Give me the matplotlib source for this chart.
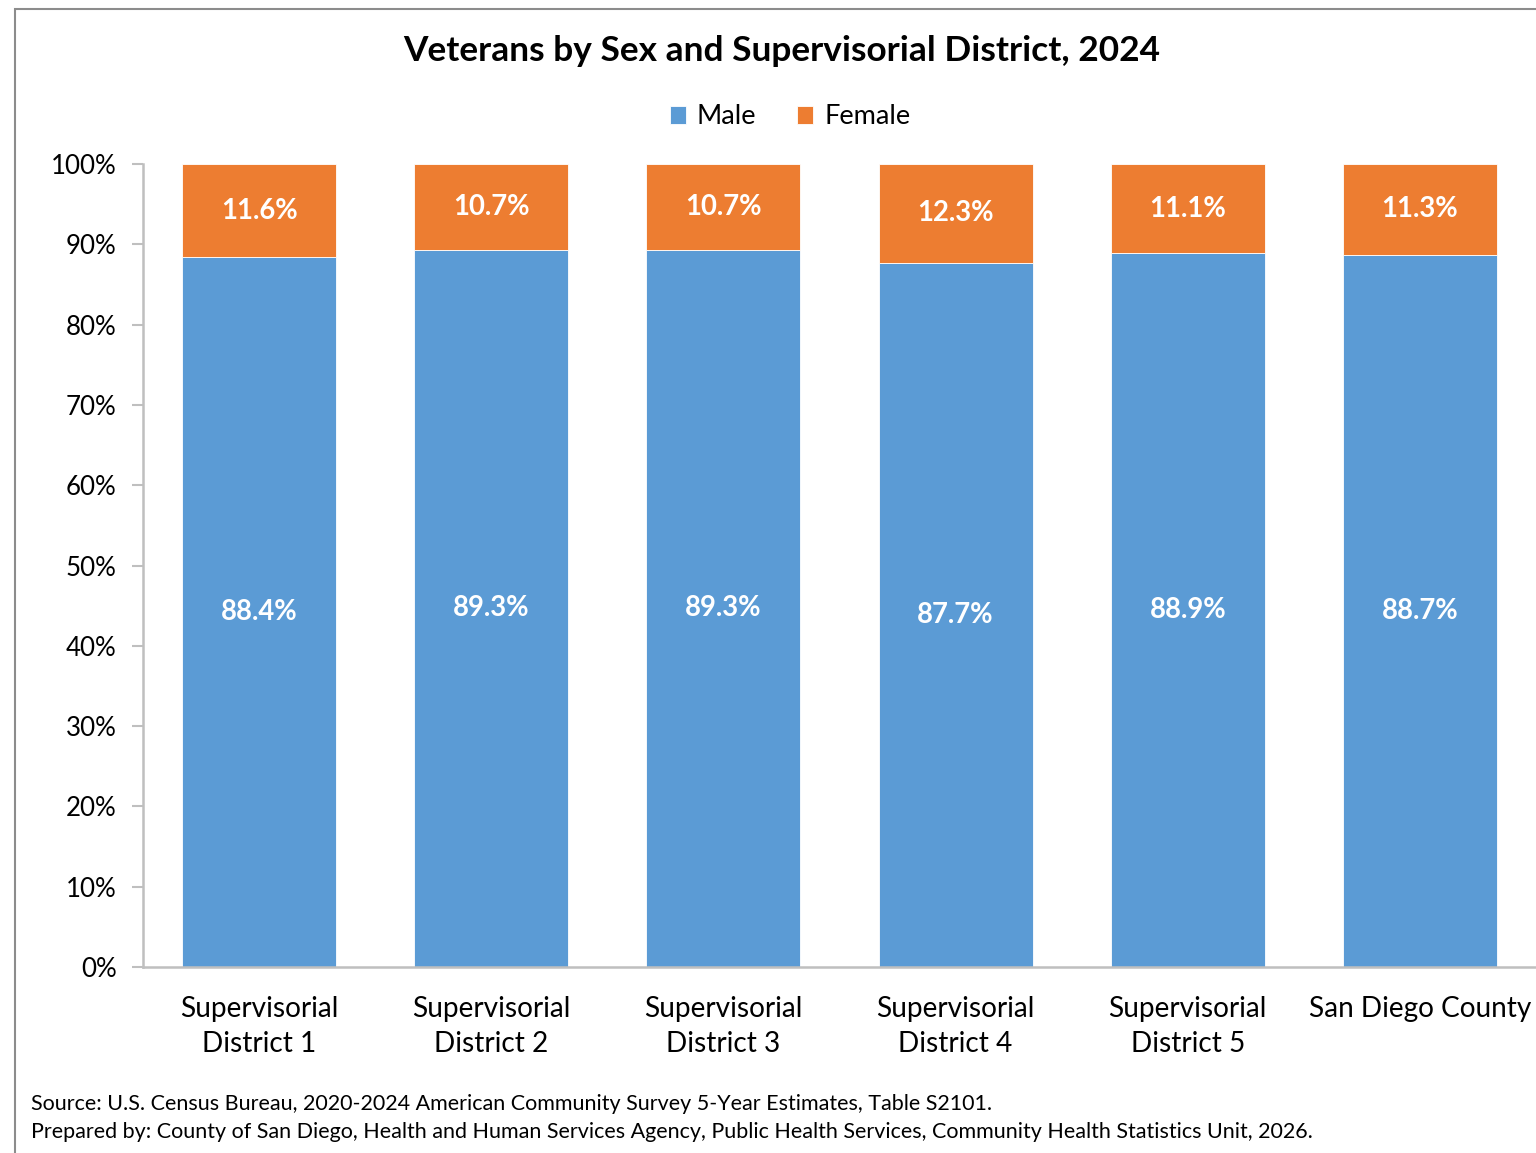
import matplotlib.pyplot as plt
from matplotlib.patches import Rectangle

# Veterans by sex, share of each district (percent)
districts = ["Supervisorial\nDistrict 1", "Supervisorial\nDistrict 2", "Supervisorial\nDistrict 3",
             "Supervisorial\nDistrict 4", "Supervisorial\nDistrict 5", "San Diego County"]
male = [88.4, 89.3, 89.3, 87.7, 88.9, 88.7]
female = [11.6, 10.7, 10.7, 12.3, 11.1, 11.3]
yticks = [0, 10, 20, 30, 40, 50, 60, 70, 80, 90, 100]

BLUE = "#5B9BD5"
ORANGE = "#ED7D31"
GRAY = "#BFBFBF"

plt.rcParams["font.family"] = ["Lato", "DejaVu Sans"]

fig = plt.figure(figsize=(15.36, 11.53), dpi=100)
ax = fig.add_axes([143 / 1536, 186 / 1153, 1 - 143 / 1536, 803 / 1153])

x = list(range(len(districts)))
width = 0.664
ax.bar(x, male, width, color=BLUE, label="Male", edgecolor="white", linewidth=0.6)
ax.bar(x, female, width, bottom=male, color=ORANGE, label="Female", edgecolor="white", linewidth=0.6)

for i in x:
    ax.text(i, male[i] / 2, f"{male[i]:.1f}%", ha="center", va="center",
            color="white", fontsize=19.8, fontweight="bold")
    ax.text(i, male[i] + female[i] / 2, f"{female[i]:.1f}%", ha="center", va="center",
            color="white", fontsize=19.8, fontweight="bold")

ax.set_xlim(-0.5, len(districts) - 0.5)
ax.set_ylim(0, 100)
ax.set_yticks(yticks)
ax.set_yticklabels([f"{v}%" for v in yticks], fontsize=18.6)
ax.set_xticks(x)
ax.set_xticklabels(districts, fontsize=20.2, linespacing=1.4)
ax.tick_params(axis="x", length=0, pad=21)
ax.tick_params(axis="y", length=8, width=1.5, color=GRAY, pad=11)

for side in ["top", "right"]:
    ax.spines[side].set_visible(False)
for side in ["left", "bottom"]:
    ax.spines[side].set_color(GRAY)
    ax.spines[side].set_linewidth(1.8)

fig.text(782 / 1536, 1 - 51 / 1153, "Veterans by Sex and Supervisorial District, 2024",
         ha="center", va="center", fontsize=25.4, fontweight="bold")

ax.legend(loc="center", bbox_to_anchor=(790 / 1536, 1 - 117 / 1153), bbox_transform=fig.transFigure,
          ncol=2, frameon=False, fontsize=19.5, handlelength=0.6, handleheight=0.6,
          handletextpad=0.4, columnspacing=1.5)

fig.text(31 / 1536, 1 - 1104 / 1153,
         "Source: U.S. Census Bureau, 2020-2024 American Community Survey 5-Year Estimates, Table S2101.",
         ha="left", va="center", fontsize=15.45)
fig.text(31 / 1536, 1 - 1132 / 1153,
         "Prepared by: County of San Diego, Health and Human Services Agency, Public Health Services, "
         "Community Health Statistics Unit, 2026.",
         ha="left", va="center", fontsize=15.45)

# outer chart frame, cut off on the right and bottom
fig.patches.append(Rectangle((15 / 1536, -0.05), 1.1, 1 - 9 / 1153 + 0.05, transform=fig.transFigure,
                             fill=False, edgecolor="#8C8C8C", linewidth=1.5, clip_on=False))

fig.savefig("out.png", dpi=100)
